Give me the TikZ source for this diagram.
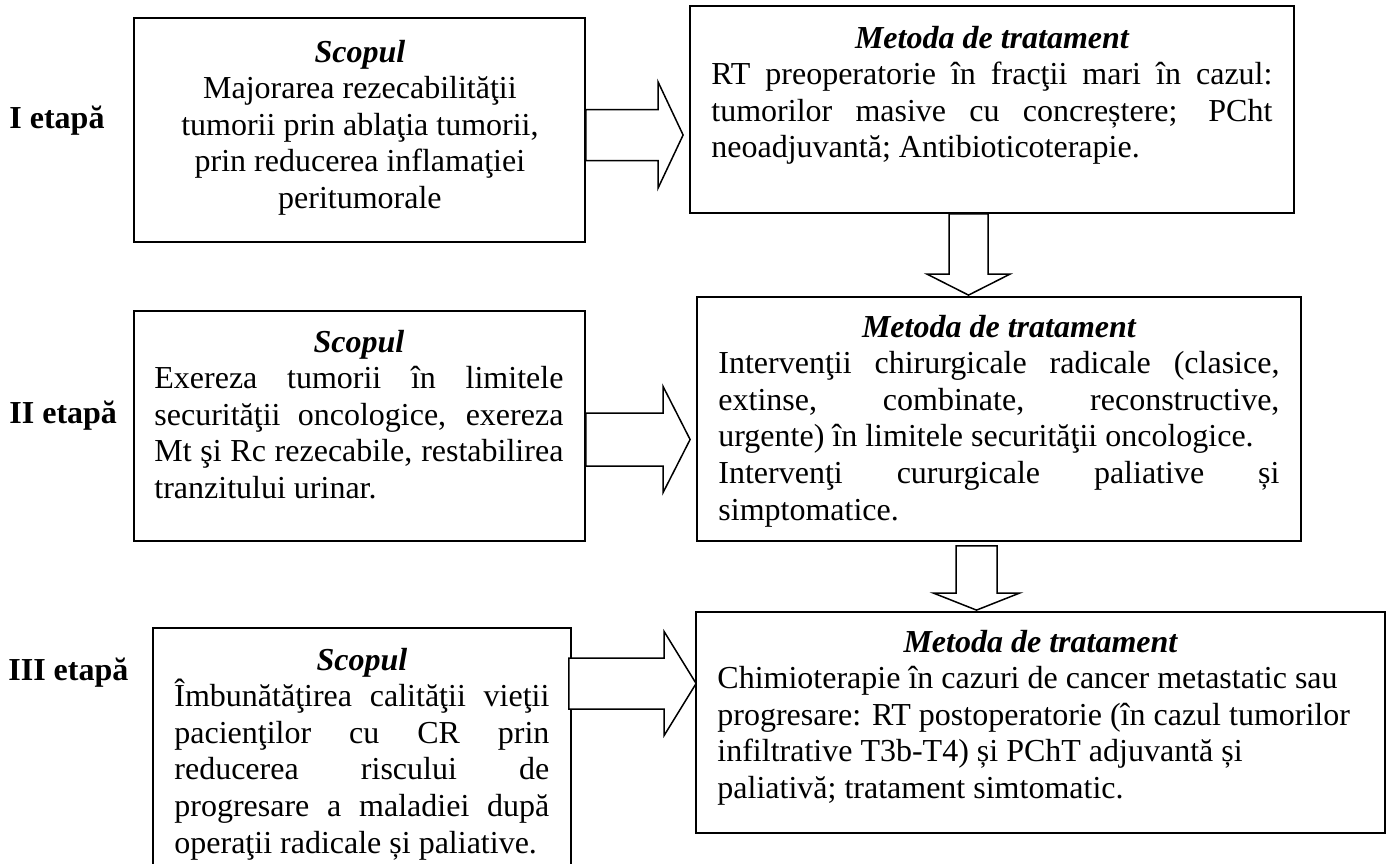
\documentclass[tikz,border=0pt]{standalone}
\usepackage{fontspec}
\setmainfont{Liberation Serif}
\usetikzlibrary{calc}
\newlength{\px}\setlength{\px}{0.5pt}
\newcommand{\jusline}[1]{\makebox[\linewidth][s]{#1}}
\newcommand{\lefline}[1]{\makebox[\linewidth][l]{#1}}
\newcommand{\cenline}[1]{\makebox[\linewidth][c]{#1}}
\newcommand{\titline}[1]{\makebox[\linewidth][c]{\bfseries\itshape #1}}
% start, tip, shaft half width, head half width, head length
\newcommand{\hblock}[5]{%
  \draw[blk] ($(#1)+(0,-#3)$) -- ($(#2)+(-#5,-#3)$) -- ($(#2)+(-#5,-#4)$) -- (#2)
    -- ($(#2)+(-#5,#4)$) -- ($(#2)+(-#5,#3)$) -- ($(#1)+(0,#3)$) -- cycle;}
\newcommand{\vblock}[5]{%
  \draw[blk] ($(#1)+(-#3,0)$) -- ($(#2)+(-#3,-#5)$) -- ($(#2)+(-#4,-#5)$) -- (#2)
    -- ($(#2)+(#4,-#5)$) -- ($(#2)+(#3,-#5)$) -- ($(#1)+(#3,0)$) -- cycle;}
\begin{document}
\begin{tikzpicture}[x=0.5pt,y=-0.5pt,
  box/.style={draw, rectangle, line width=0.9pt, inner sep=0pt},
  blk/.style={draw, fill=white, line width=0.75pt, line join=miter},
  txt/.style={inner sep=0pt, anchor=base west, font=\fontsize{16}{18.3}\selectfont},
  stage/.style={inner sep=0pt, anchor=base west, font=\fontsize{16}{18.3}\selectfont\bfseries}]
\useasboundingbox (0,0) rectangle (1390,863);
\clip (0,0) rectangle (1390,863);

% boxes
\node[box, minimum width=451\px, minimum height=224\px] (b1) at (359.5,130) {};
\node[box, minimum width=604\px, minimum height=207\px] (b2) at (992,109.5) {};
\node[box, minimum width=451\px, minimum height=230\px] (b3) at (359.5,426) {};
\node[box, minimum width=604\px, minimum height=244\px] (b4) at (999,419) {};
\node[box, minimum width=418\px, minimum height=272\px] (b5) at (362,764) {};
\node[box, minimum width=689\px, minimum height=221\px] (b6) at (1040.5,722.5) {};

% block arrows
\coordinate (a1s) at ($(b1.east)+(0,5)$);
\coordinate (a1t) at ($(b2.west |- a1s)+(-6,0)$);
\hblock{a1s}{a1t}{25.5}{53}{25}
\coordinate (a2s) at ($(b3.east)+(0,13.5)$);
\coordinate (a2t) at ($(b4.west |- a2s)+(-6,0)$);
\hblock{a2s}{a2t}{26.5}{53}{27}
\coordinate (a3s) at ($(b5.east)+(-3,-80.5)$);
\coordinate (a3t) at ($(b6.west |- a3s)+(1,0)$);
\hblock{a3s}{a3t}{25.5}{52}{32}
\coordinate (d1s) at ($(b2.south)+(-23.5,0)$);
\coordinate (d1t) at ($(d1s |- b4.north)+(0,-1)$);
\vblock{d1s}{d1t}{19.5}{41.5}{21}
\coordinate (d2s) at ($(b4.south)+(-22.5,4)$);
\coordinate (d2t) at ($(d2s |- b6.north)+(0,-1)$);
\vblock{d2s}{d2t}{20.5}{43}{17}

% stage labels
\node[stage] (s1) at (9,128) {I etapă};
\node[stage] (s2) at (9,423) {II etapă};
\node[stage] (s3) at (8,680) {III etapă};

% texts
\node[txt] (t1) at (155,62) {\parbox[t]{409\px}{%
  \titline{Scopul}\\
  \cenline{Majorarea rezecabilităţii}\\
  \cenline{tumorii prin ablaţia tumorii,}\\
  \cenline{prin reducerea inflamaţiei}\\
  \cenline{peritumorale}}};
\node[txt] (t2) at (711,48) {\parbox[t]{561\px}{%
  \titline{Metoda de tratament}\\
  \jusline{RT preoperatorie în fracţii mari în cazul:}\\
  \jusline{tumorilor masive cu concreștere; PCht}\\
  \lefline{neoadjuvantă; Antibioticoterapie.}}};
\node[txt] (t3) at (154,352) {\parbox[t]{409\px}{%
  \titline{Scopul}\\
  \jusline{Exereza tumorii în limitele}\\
  \jusline{securităţii oncologice, exereza}\\
  \jusline{Mt şi Rc rezecabile, restabilirea}\\
  \lefline{tranzitului urinar.}}};
\node[txt] (t4) at (718,337) {\parbox[t]{561\px}{%
  \titline{Metoda de tratament}\\
  \jusline{Intervenţii chirurgicale radicale (clasice,}\\
  \jusline{extinse, combinate, reconstructive,}\\
  \lefline{urgente) în limitele securităţii oncologice.}\\
  \jusline{Intervenţi cururgicale paliative și}\\
  \lefline{simptomatice.}}};
\node[txt] (t5) at (174,670) {\parbox[t]{375\px}{%
  \titline{Scopul}\\
  \jusline{Îmbunătăţirea calităţii vieţii}\\
  \jusline{pacienţilor cu CR prin}\\
  \jusline{reducerea riscului de}\\
  \jusline{progresare a maladiei după}\\
  \lefline{operaţii radicale și paliative.}}};
\node[txt] (t6) at (717,652) {\parbox[t]{646\px}{%
  \titline{Metoda de tratament}\\
  \lefline{Chimioterapie în cazuri de cancer metastatic sau}\\
  \lefline{progresare: RT postoperatorie (în cazul tumorilor}\\
  \lefline{infiltrative T3b-T4) și PChT adjuvantă și}\\
  \lefline{paliativă; tratament simtomatic.}}};
\end{tikzpicture}
\end{document}
